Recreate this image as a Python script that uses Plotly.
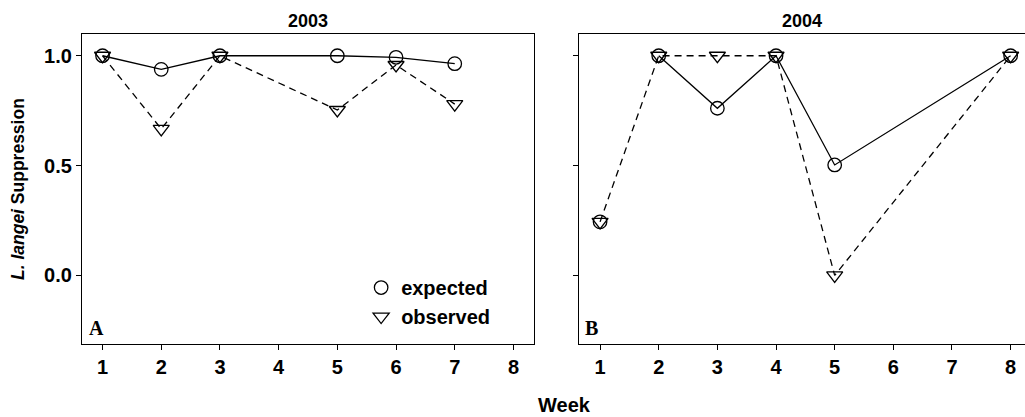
import plotly.graph_objects as go

weeks_2003 = [1, 2, 3, 5, 6, 7]
expected_2003 = [1.0, 0.938, 1.0, 1.0, 0.993, 0.964]
observed_2003 = [1.0, 0.667, 1.0, 0.753, 0.958, 0.78]

weeks_2004 = [1, 2, 3, 4, 5, 8]
expected_2004 = [0.244, 1.0, 0.761, 1.0, 0.503, 1.0]
observed_2004 = [0.244, 1.0, 1.0, 1.0, 0.0, 1.0]

x_ticks = [1, 2, 3, 4, 5, 6, 7, 8]
y_ticks = [0.0, 0.5, 1.0]
panel_titles = ["2003", "2004"]
panel_letters = ["A", "B"]

FONT = "Liberation Sans, Arial, Helvetica, sans-serif"
SERIF = "Liberation Serif, Times New Roman, serif"
LW = 1.3
DASH = "7px,5px"

circle = dict(symbol="circle-open", size=13.5, color="black", line=dict(width=LW, color="black"))
tri = dict(symbol="triangle-down-open", size=14, color="black", line=dict(width=LW, color="black"))

fig = go.Figure()

# Panel A
fig.add_trace(go.Scatter(x=weeks_2003, y=observed_2003, mode="lines+markers",
                         line=dict(color="black", width=LW, dash=DASH),
                         marker=tri, showlegend=False, xaxis="x", yaxis="y"))
fig.add_trace(go.Scatter(x=weeks_2003, y=expected_2003, mode="lines+markers",
                         line=dict(color="black", width=LW),
                         marker=circle, showlegend=False, xaxis="x", yaxis="y"))

# Panel B
fig.add_trace(go.Scatter(x=weeks_2004, y=observed_2004, mode="lines+markers",
                         line=dict(color="black", width=LW, dash=DASH),
                         marker=tri, showlegend=False, xaxis="x2", yaxis="y2"))
fig.add_trace(go.Scatter(x=weeks_2004[1:], y=expected_2004[1:], mode="lines",
                         line=dict(color="black", width=LW),
                         showlegend=False, xaxis="x2", yaxis="y2"))
fig.add_trace(go.Scatter(x=weeks_2004, y=expected_2004, mode="markers",
                         marker=circle, showlegend=False, xaxis="x2", yaxis="y2"))

# Legend entries
fig.add_trace(go.Scatter(x=[None], y=[None], mode="markers", marker=circle,
                         name="expected", xaxis="x", yaxis="y"))
fig.add_trace(go.Scatter(x=[None], y=[None], mode="markers", marker=tri,
                         name="observed", xaxis="x", yaxis="y"))

tickfont = dict(family=FONT, size=20, color="black", weight="bold")
xcommon = dict(range=[0.65, 8.35], tickvals=x_ticks, ticks="outside", ticklen=5,
               tickwidth=LW, tickcolor="black", showline=True, linecolor="black",
               linewidth=LW, showgrid=False, zeroline=False, tickfont=tickfont)
ycommon = dict(range=[-0.312, 1.099], tickvals=y_ticks, ticks="outside", ticklen=5,
               tickwidth=LW, tickcolor="black", showline=True, linecolor="black",
               linewidth=LW, showgrid=False, zeroline=False, tickformat=".1f",
               tickfont=tickfont)

fig.update_layout(
    width=1025, height=417,
    margin=dict(l=82, r=0, t=34, b=73),
    plot_bgcolor="white", paper_bgcolor="white",
    xaxis=dict(domain=[0, 0.4793], mirror=True, anchor="y", **xcommon),
    yaxis=dict(domain=[0, 1], mirror=True, anchor="x", **ycommon),
    xaxis2=dict(domain=[0.527, 1], mirror=True, anchor="y2", **{**xcommon, "range": [0.64, 8.245]}),
    yaxis2=dict(domain=[0, 1], anchor="x2", showticklabels=False, **ycommon),
    legend=dict(x=0.296, y=0.245, xanchor="left", yanchor="top", bgcolor="rgba(0,0,0,0)",
                font=dict(family=FONT, size=20, color="black", weight="bold"),
                tracegroupgap=0, itemwidth=30),
    showlegend=True,
    annotations=[
        dict(text=panel_titles[0], x=0.5, xref="x domain", y=1, yref="paper", yshift=1,
             yanchor="bottom", showarrow=False,
             font=dict(family=FONT, size=18, color="black", weight="bold")),
        dict(text=panel_titles[1], x=0.5, xref="x2 domain", y=1, yref="paper", yshift=1,
             yanchor="bottom", showarrow=False,
             font=dict(family=FONT, size=18, color="black", weight="bold")),
        dict(text=panel_letters[0], x=0.01, xref="x domain", y=0.01, yref="y domain",
             xanchor="left", yanchor="bottom", showarrow=False,
             font=dict(family=SERIF, size=20, color="black", weight="bold")),
        dict(text=panel_letters[1], x=0.01, xref="x2 domain", y=0.01, yref="y2 domain",
             xanchor="left", yanchor="bottom", showarrow=False,
             font=dict(family=SERIF, size=20, color="black", weight="bold")),
        dict(text="Week", x=0.512, xref="paper", y=0, yref="paper", yshift=-48,
             yanchor="top", showarrow=False,
             font=dict(family=FONT, size=20, color="black", weight="bold")),
        dict(text="<i>L. langei</i> Suppression", x=0, xref="paper", xshift=-64,
             xanchor="center", y=0.5, yref="paper", textangle=-90, showarrow=False,
             font=dict(family=FONT, size=17.5, color="black", weight="bold")),
    ],
)

fig.write_html("out.html")
